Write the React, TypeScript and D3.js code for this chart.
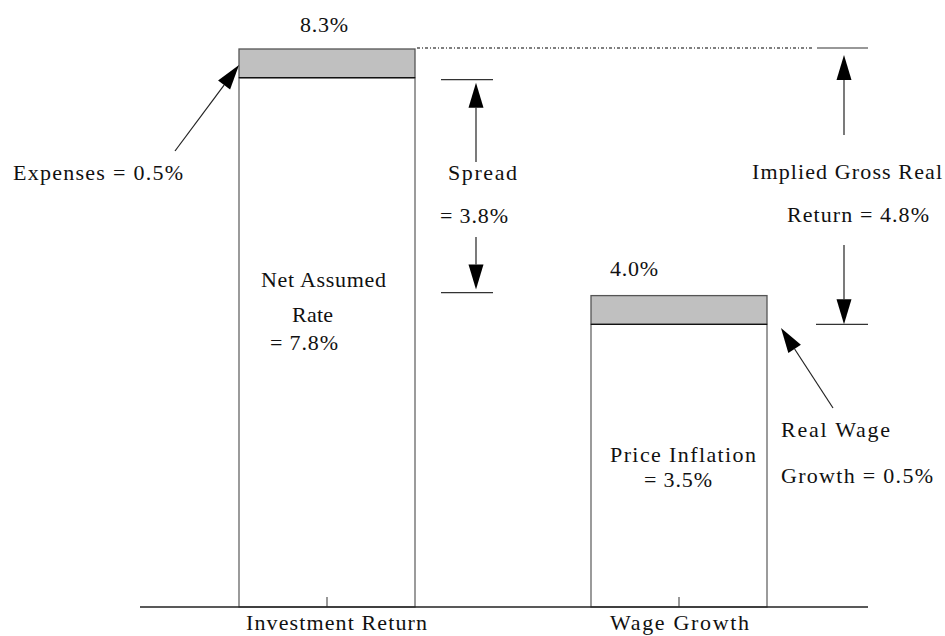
import { useEffect, useRef } from "react";
import * as d3 from "d3";

const W = 945;
const H = 636;

// bars: total rate on top, net part below the grey band
const CATEGORIES = ["Investment Return", "Wage Growth"];
const TOTALS = [8.3, 4.0];
const NETS = [7.8, 3.5];
const TOP_LABELS = ["8.3%", "4.0%"];

const FONT = "'Liberation Serif', 'Times New Roman', serif";
const BASE_Y = 607;

export default function App() {
  const svgRef = useRef<SVGSVGElement>(null);

  useEffect(() => {
    const svgEl = svgRef.current;
    if (!svgEl) return;
    const svg = d3.select(svgEl);
    svg.selectAll("*").remove();

    // schematic figure: the value axis is not anchored at the baseline
    const y = d3.scaleLinear().domain([0, 8.3]).range([525, 49]);
    const x = d3
      .scaleBand<string>()
      .domain(CATEGORIES)
      .range([151, 855])
      .paddingInner(0.5)
      .paddingOuter(0.25);

    const text = (s: string, tx: number, ty: number, len?: number, size = 22) => {
      const t = svg
        .append("text")
        .attr("x", tx)
        .attr("y", ty)
        .attr("font-family", FONT)
        .attr("font-size", size)
        .attr("fill", "#111")
        .text(s);
      if (len) t.attr("textLength", len).attr("lengthAdjust", "spacing");
      return t;
    };

    // arrow from (x1,y1) to tip (x2,y2)
    const arrow = (x1: number, y1: number, x2: number, y2: number, head = 25, hw = 7.5) => {
      const dx = x2 - x1;
      const dy = y2 - y1;
      const L = Math.hypot(dx, dy);
      const ux = dx / L;
      const uy = dy / L;
      const bx = x2 - ux * head;
      const by = y2 - uy * head;
      svg
        .append("line")
        .attr("x1", x1)
        .attr("y1", y1)
        .attr("x2", bx)
        .attr("y2", by)
        .attr("stroke", "#222")
        .attr("stroke-width", 1.2);
      svg
        .append("polygon")
        .attr(
          "points",
          [
            [x2, y2],
            [bx - uy * hw, by + ux * hw],
            [bx + uy * hw, by - ux * hw],
          ]
            .map((p) => p.join(","))
            .join(" "),
        )
        .attr("fill", "#000");
    };

    const hline = (x1: number, x2: number, yy: number, color = "#333") =>
      svg
        .append("line")
        .attr("x1", x1)
        .attr("x2", x2)
        .attr("y1", yy)
        .attr("y2", yy)
        .attr("stroke", color)
        .attr("stroke-width", 1.2);

    // bars
    CATEGORIES.forEach((c, i) => {
      const bx = x(c)!;
      const bw = x.bandwidth();
      svg
        .append("rect")
        .attr("x", bx)
        .attr("y", y(NETS[i]))
        .attr("width", bw)
        .attr("height", BASE_Y - y(NETS[i]))
        .attr("fill", "#fff")
        .attr("stroke", "#666")
        .attr("stroke-width", 1.3);
      svg
        .append("rect")
        .attr("x", bx)
        .attr("y", y(TOTALS[i]))
        .attr("width", bw)
        .attr("height", y(NETS[i]) - y(TOTALS[i]))
        .attr("fill", "#c0c0c0")
        .attr("stroke", "#555")
        .attr("stroke-width", 1.3);
      hline(bx, bx + bw, y(NETS[i]), "#111");
      // category tick
      const cx = bx + bw / 2;
      svg
        .append("line")
        .attr("x1", cx)
        .attr("x2", cx)
        .attr("y1", BASE_Y - 10)
        .attr("y2", BASE_Y)
        .attr("stroke", "#555")
        .attr("stroke-width", 1.2);
    });

    // baseline
    svg
      .append("line")
      .attr("x1", 140)
      .attr("x2", 868)
      .attr("y1", BASE_Y)
      .attr("y2", BASE_Y)
      .attr("stroke", "#222")
      .attr("stroke-width", 1.6);

    // category labels
    text(CATEGORIES[0], 246, 630, 181);
    text(CATEGORIES[1], 610, 630, 139);

    // top value labels
    text(TOP_LABELS[0], 300, y(TOTALS[0]) - 17, 48);
    text(TOP_LABELS[1], 610, y(TOTALS[1]) - 20, 48);

    // dotted reference at the top of the investment bar
    svg
      .append("line")
      .attr("x1", x(CATEGORIES[0])! + x.bandwidth() + 2)
      .attr("x2", 814)
      .attr("y1", y(TOTALS[0]) - 1)
      .attr("y2", y(TOTALS[0]) - 1)
      .attr("stroke", "#555")
      .attr("stroke-width", 1.3)
      .attr("stroke-dasharray", "3 2 1 2");
    hline(817, 868, y(TOTALS[0]) - 1);

    // spread
    const sTop = y(NETS[0]) + 2;
    const sBot = y(TOTALS[1]) - 3;
    hline(441, 493, sTop);
    hline(441, 493, sBot);
    arrow(476, 162, 476, sTop + 3);
    arrow(476, 237, 476, sBot - 3);
    text("Spread", 448, 180, 69);
    text("= 3.8%", 440, 223, 68);

    // implied gross real return
    const iBot = y(NETS[1]);
    arrow(844, 135, 844, y(TOTALS[0]) + 6);
    arrow(844, 245, 844, iBot);
    hline(816, 868, iBot);
    text("Implied Gross Real", 752, 179, 190);
    text("Return = 4.8%", 787, 222, 142);

    // expenses
    arrow(175, 151, 239, 65);
    text("Expenses = 0.5%", 13, 180, 170);

    // net assumed rate
    text("Net Assumed", 261, 287, 125);
    text("Rate", 292, 322, 41);
    text("= 7.8%", 270, 350, 68);

    // price inflation
    text("Price Inflation", 610, 462, 146);
    text("= 3.5%", 644, 487, 68);

    // real wage growth
    arrow(833, 408, 781, 328);
    text("Real Wage", 781, 437, 109);
    text("Growth = 0.5%", 781, 483, 152);
  }, []);

  return (
    <svg
      ref={svgRef}
      width={W}
      height={H}
      style={{ position: "absolute", left: 0, top: 0, background: "#fff" }}
    />
  );
}
